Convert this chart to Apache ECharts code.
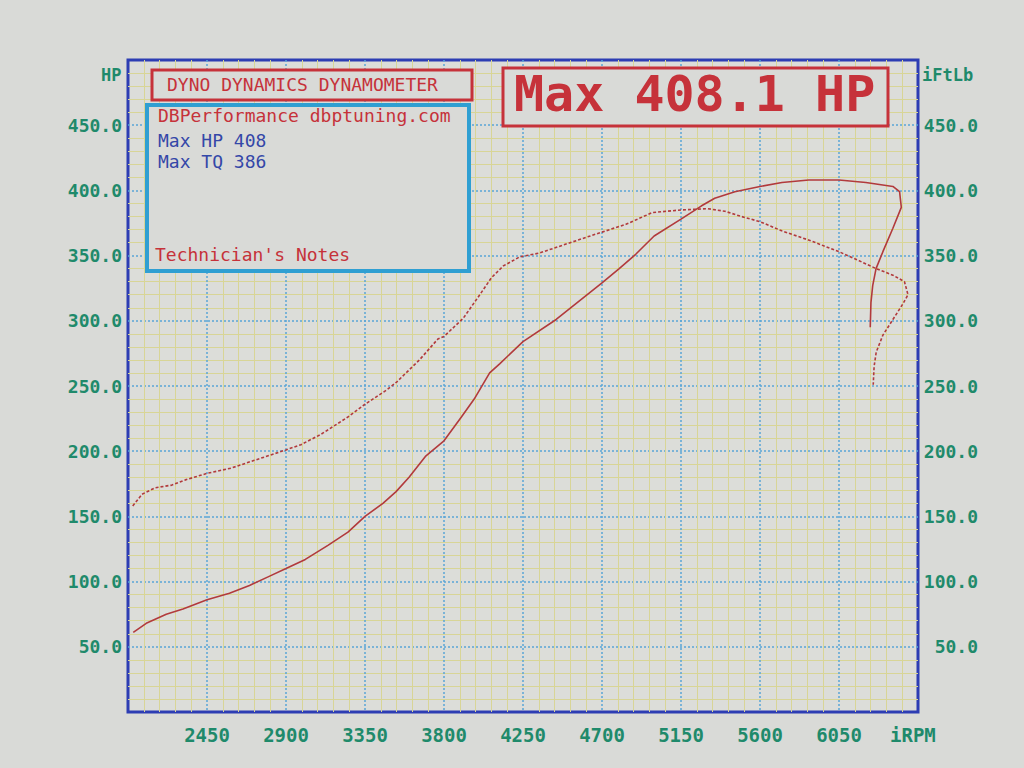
<!DOCTYPE html>
<html>
<head>
<meta charset="utf-8">
<script src="https://cdn.jsdelivr.net/npm/echarts@6/dist/echarts.min.js"></script>
<style>
  html, body { margin: 0; padding: 0; background: #d6d7d4; }
  #chart { width: 1024px; height: 768px; }
</style>
</head>
<body>
<div id="chart"></div>
<script>
// ---- Data read from the dyno sheet ----
// Power (HP, solid line), in run order (includes the run-down hook at the end)
const hpRpm = [2030, 2104, 2218, 2313, 2450, 2578, 2692, 2804, 2900, 3010, 3141, 3253, 3350, 3452, 3527, 3601, 3694, 3800, 3898, 3972, 4060, 4117, 4250, 4439, 4700, 4798, 4892, 4997, 5150, 5265, 5342, 5457, 5600, 5725, 5878, 6050, 6203, 6357, 6395, 6405, 6357, 6300, 6261, 6242, 6232, 6228];
const hpVal = [61, 68, 75, 79, 86, 91, 97, 104, 110, 117, 128, 138, 150, 160, 169, 180, 196, 208, 226, 240, 260, 267, 284, 301, 329, 340, 351, 365, 378, 388, 394, 399, 403, 406, 408, 408, 406, 403, 399, 387, 371, 353, 340, 327, 314, 295];
// Torque (ft-lb, dashed line)
const tqRpm = [2027, 2080, 2156, 2250, 2327, 2450, 2587, 2720, 2900, 2985, 3100, 3250, 3350, 3474, 3530, 3660, 3765, 3800, 3910, 4004, 4070, 4137, 4231, 4345, 4477, 4609, 4700, 4836, 4987, 5150, 5303, 5400, 5494, 5600, 5724, 5876, 6050, 6165, 6262, 6357, 6423, 6443, 6414, 6357, 6300, 6262, 6250, 6245];
const tqVal = [158, 167, 172, 174, 178, 183, 187, 193, 201, 205, 213, 226, 236, 247, 253, 270, 286, 288, 302, 320, 333, 342, 349, 352, 358, 364, 368, 374, 383, 385, 386, 384, 380, 376, 369, 362, 353, 346, 340, 335, 330, 320, 313, 301, 289, 276, 265, 251];
// Axis ticks
const rpmTicks = [2000, 2450, 2900, 3350, 3800, 4250, 4700, 5150, 5600, 6050, 6500];
const powerTicks = [0, 50, 100, 150, 200, 250, 300, 350, 400, 450, 500];
// Annotation texts
const headerText = 'DYNO DYNAMICS DYNAMOMETER';
const infoLines = ['DBPerformance dbptuning.com', 'Max HP 408', 'Max TQ 386'];
const notesText = "Technician's Notes";
const maxText = 'Max 408.1 HP';

const hpData = hpRpm.map((r, i) => [r, hpVal[i]]);
const tqData = tqRpm.map((r, i) => [r, tqVal[i]]);

const MONO = '"DejaVu Sans Mono", "Liberation Mono", monospace';
const GREEN = '#1f8a6b';
const RED = '#c6323a';
const BLUE = '#3447a8';
const PAPER = '#d9dad7';
const CURVE = '#b23a3c';

const chart = echarts.init(document.getElementById('chart'), null, { renderer: 'svg' });

const xMin = rpmTicks[0], xMax = rpmTicks[rpmTicks.length - 1];
const yMin = powerTicks[0], yMax = powerTicks[powerTicks.length - 1];

const yLabelFmt = v => (v === yMin || v === yMax) ? '' : v.toFixed(1);
const majorLine = { show: true, showMinLine: false, showMaxLine: false,
  lineStyle: { color: '#5aa5d6', type: [2, 2], width: 1.5 } };
const minorLine = { show: true, lineStyle: { color: '#d8d596', width: 1 } };

chart.setOption({
  backgroundColor: PAPER,
  animation: false,
  grid: {
    left: 128, right: 106, top: 60, bottom: 56,
    show: true, borderColor: '#2d3db3', borderWidth: 3, backgroundColor: '#dcddd9'
  },
  xAxis: {
    type: 'value', min: xMin, max: xMax, interval: rpmTicks[1] - rpmTicks[0],
    axisLine: { show: false }, axisTick: { show: false },
    axisLabel: {
      margin: 13, color: GREEN, fontFamily: MONO, fontSize: 19, fontWeight: 'bold',
      formatter: v => (v === xMin || v === xMax) ? '' : String(v)
    },
    splitLine: majorLine,
    minorTick: { show: false, splitNumber: 5 },
    minorSplitLine: minorLine
  },
  yAxis: [
    {
      type: 'value', position: 'left', min: yMin, max: yMax, interval: powerTicks[1] - powerTicks[0],
      axisLine: { show: false }, axisTick: { show: false },
      axisLabel: { margin: 6, color: GREEN, fontFamily: MONO, fontSize: 18, fontWeight: 'bold', formatter: yLabelFmt },
      splitLine: majorLine,
      minorTick: { show: false, splitNumber: 5 },
      minorSplitLine: minorLine
    },
    {
      type: 'value', position: 'right', min: yMin, max: yMax, interval: powerTicks[1] - powerTicks[0],
      axisLine: { show: false }, axisTick: { show: false },
      axisLabel: { margin: 60, align: 'right', color: GREEN, fontFamily: MONO, fontSize: 18, fontWeight: 'bold', formatter: yLabelFmt },
      splitLine: { show: false }
    }
  ],
  series: [
    {
      name: 'Power', type: 'line', data: hpData, yAxisIndex: 0,
      showSymbol: false, smooth: false,
      lineStyle: { color: CURVE, width: 1.6 }
    },
    {
      name: 'Torque', type: 'line', data: tqData, yAxisIndex: 1,
      showSymbol: false, smooth: false,
      lineStyle: { color: CURVE, width: 1.6, type: [3, 2] }
    }
  ],
  graphic: [
    { type: 'text', left: 101, top: 66, z: 100,
      style: { text: 'HP', fill: GREEN, font: 'bold 17px ' + MONO } },
    { type: 'text', left: 922, top: 66, z: 100,
      style: { text: 'iFtLb', fill: GREEN, font: 'bold 17px ' + MONO } },
    { type: 'text', left: 890, top: 725, z: 100,
      style: { text: 'iRPM', fill: GREEN, font: 'bold 19px ' + MONO } },
    // header box
    { type: 'rect', z: 100, shape: { x: 152, y: 70, width: 320, height: 30 },
      style: { fill: PAPER, stroke: RED, lineWidth: 3 } },
    { type: 'text', z: 101, left: 167, top: 75,
      style: { text: headerText, fill: RED, font: '18px ' + MONO } },
    // info box
    { type: 'rect', z: 100, shape: { x: 147, y: 105, width: 322, height: 166 },
      style: { fill: PAPER, stroke: '#2f9fd2', lineWidth: 4 } },
    { type: 'text', z: 101, left: 158, top: 106,
      style: { text: infoLines[0], fill: RED, font: '18px ' + MONO } },
    { type: 'text', z: 101, left: 158, top: 131,
      style: { text: infoLines[1], fill: BLUE, font: '18px ' + MONO } },
    { type: 'text', z: 101, left: 158, top: 152,
      style: { text: infoLines[2], fill: BLUE, font: '18px ' + MONO } },
    { type: 'text', z: 101, left: 155, top: 245,
      style: { text: notesText, fill: RED, font: '18px ' + MONO } },
    // big max box
    { type: 'rect', z: 100, shape: { x: 503, y: 68, width: 385, height: 58 },
      style: { fill: PAPER, stroke: RED, lineWidth: 3 } },
    { type: 'text', z: 101, left: 514, top: 69,
      style: { text: maxText, fill: RED, font: 'bold 50px ' + MONO } }
  ]
});
</script>
</body>
</html>
